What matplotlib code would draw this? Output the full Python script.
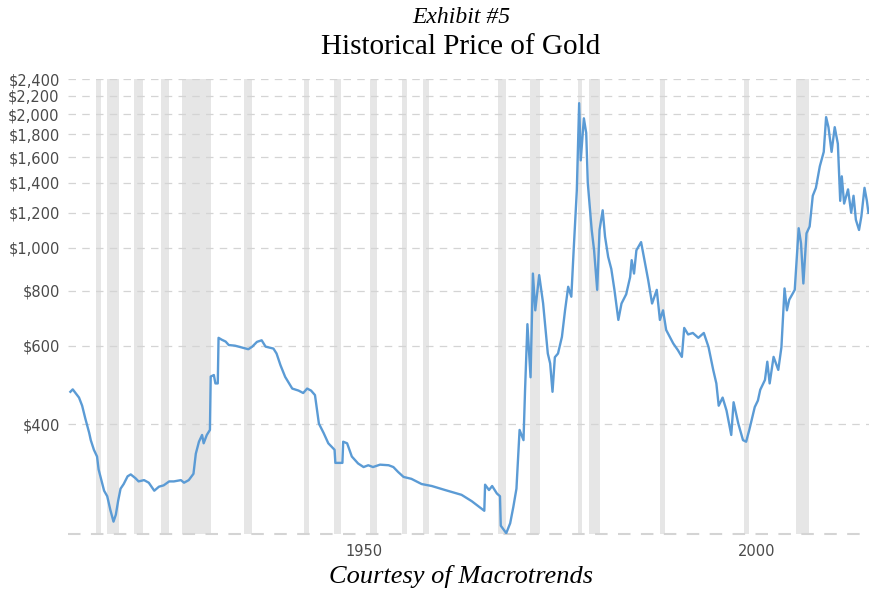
import matplotlib
matplotlib.use("Agg")
import matplotlib.pyplot as plt
import matplotlib.transforms as mtransforms
from matplotlib.ticker import FixedLocator, NullLocator

# gold price, inflation adjusted
years = [1915.3, 1915.6, 1916.4, 1916.8, 1917.2, 1917.7, 1917.9, 1918.3, 1918.7, 1918.9,
         1919.3, 1919.6, 1920.0, 1920.4, 1920.8, 1921.1, 1921.4, 1921.7, 1922.1, 1922.6,
         1923.0, 1923.6, 1924.0, 1924.7, 1925.3, 1926.0, 1926.6, 1927.2, 1927.9, 1928.5,
         1929.4, 1929.8, 1930.4, 1931.0, 1931.3, 1931.7, 1932.1, 1932.3, 1932.7, 1933.1,
         1933.2, 1933.6, 1933.8, 1934.1, 1934.2, 1934.6, 1935.1, 1935.5, 1936.3, 1937.2,
         1938.0, 1938.5, 1939.1, 1939.7, 1940.2, 1941.2, 1941.6, 1942.1, 1942.7, 1943.6,
         1944.4, 1945.0, 1945.5, 1946.0, 1946.5, 1947.0, 1947.6, 1948.2, 1949.0, 1949.1,
         1950.0, 1950.1, 1950.6, 1951.2, 1952.0, 1952.7, 1953.3, 1953.9, 1954.8, 1955.9,
         1956.5, 1957.1, 1957.8, 1958.8, 1960.1, 1961.4, 1963.1, 1965.2, 1966.5, 1968.1,
         1968.2, 1968.7, 1969.1, 1969.7, 1970.1, 1970.2, 1970.9, 1971.4, 1971.8, 1972.2,
         1972.6, 1973.1, 1973.3, 1973.6, 1974.0, 1974.3, 1974.6, 1975.1, 1975.6, 1976.2,
         1976.5, 1976.8, 1977.1, 1977.5, 1978.0, 1978.4, 1978.8, 1979.2, 1979.5, 1979.9,
         1980.2, 1980.4, 1980.8, 1981.1, 1981.3, 1981.8, 1982.1, 1982.5, 1982.8, 1983.2,
         1983.5, 1983.9, 1984.3, 1984.7, 1985.2, 1985.6, 1986.2, 1986.7, 1986.9, 1987.2,
         1987.5, 1988.1, 1988.6, 1989.0, 1989.5, 1990.1, 1990.5, 1990.9, 1991.3, 1992.2,
         1992.8, 1993.3, 1993.6, 1994.1, 1994.7, 1995.4, 1996.1, 1996.7, 1997.3, 1997.7,
         1998.0, 1998.5, 1999.0, 1999.6, 1999.9, 2000.5, 2001.1, 2001.5, 2001.9, 2002.6,
         2003.0, 2003.3, 2003.9, 2004.2, 2004.5, 2005.0, 2005.6, 2006.0, 2006.4, 2006.7,
         2007.0, 2007.7, 2008.2, 2008.5, 2008.8, 2009.2, 2009.6, 2010.0, 2010.4, 2010.9,
         2011.4, 2011.7, 2012.0, 2012.4, 2012.8, 2013.2, 2013.5, 2013.7, 2014.0, 2014.5,
         2014.9, 2015.2, 2015.5, 2015.9, 2016.2, 2016.6, 2016.9, 2017.1]
prices = [473, 479, 459, 440, 412, 382, 368, 350, 338, 316,
          297, 283, 275, 256, 241, 250, 269, 286, 293, 305,
          308, 302, 297, 299, 295, 283, 289, 291, 297, 297,
          299, 295, 299, 309, 343, 365, 378, 362, 378, 388,
          512, 516, 494, 494, 626, 620, 614, 603, 601, 595,
          590, 598, 613, 618, 598, 592, 577, 543, 511, 481,
          476, 470, 481, 476, 465, 401, 382, 362, 350, 327,
          327, 365, 362, 338, 326, 320, 323, 320, 324, 323,
          320, 312, 304, 301, 293, 290, 284, 277, 268, 255,
          292, 284, 290, 279, 275, 236, 227, 239, 260, 286,
          388, 368, 478, 672, 510, 874, 722, 867, 749, 577,
          548, 473, 566, 577, 629, 722, 816, 775, 988, 1345,
          2117, 1573, 1957, 1813, 1399, 1096, 988, 803, 1096, 1214,
          1059, 953, 895, 803, 687, 748, 785, 858, 937, 874,
          986, 1029, 924, 846, 748, 803, 687, 722, 652, 608,
          587, 567, 659, 637, 642, 626, 642, 597, 530, 494,
          440, 459, 429, 378, 448, 401, 368, 365, 388, 437,
          452, 478, 503, 553, 494, 567, 530, 596, 809, 722,
          763, 803, 1106, 1023, 830, 1077, 1116, 1309, 1364, 1526,
          1644, 1969, 1869, 1644, 1869, 1714, 1275, 1448, 1257, 1353,
          1198, 1309, 1155, 1096, 1176, 1364, 1275, 1198]

# US recessions (start, end)
recessions = [(1918.6, 1919.2), (1920.0, 1921.5), (1923.4, 1924.5), (1926.8, 1927.9),
              (1929.6, 1933.2), (1937.4, 1938.5), (1945.1, 1945.8), (1948.9, 1949.8),
              (1953.5, 1954.4), (1957.6, 1958.3), (1960.3, 1961.1), (1969.9, 1970.9),
              (1973.9, 1975.2), (1980.0, 1980.5), (1981.5, 1982.9), (1990.5, 1991.2),
              (2001.2, 2001.9), (2007.9, 2009.5)]

ytick_vals = [400, 600, 800, 1000, 1200, 1400, 1600, 1800, 2000, 2200, 2400]
ytick_labels = ["$400", "$600", "$800", "$1,000", "$1,200", "$1,400", "$1,600",
                "$1,800", "$2,000", "$2,200", "$2,400"]
xtick_vals = [1950, 2000]
xtick_labels = ["1950", "2000"]

fig = plt.figure(figsize=(8.7, 5.91), dpi=100)
ax = fig.add_axes([0.0782, 0.0964, 0.9218, 0.7699])

for s, e in recessions:
    ax.axvspan(s, e, color="#e6e6e6", lw=0, zorder=0)

ax.plot(years, prices, color="#5b9bd5", lw=1.7, zorder=3)

ax.set_yscale("log")
ax.set_ylim(226, 2400)
ax.set_xlim(1915.0, 2017.3)

ax.yaxis.set_major_locator(FixedLocator(ytick_vals))
ax.yaxis.set_minor_locator(NullLocator())
ax.set_yticklabels(ytick_labels)
ax.set_xticks(xtick_vals)
ax.set_xticklabels(xtick_labels)
ax.xaxis.set_minor_locator(NullLocator())

ax.grid(axis="y", color="#d4d4d4", linestyle=(0, (6, 5)), lw=0.9, zorder=1)
ax.axhline(226, color="#d4d4d4", linestyle=(0, (6, 5)), lw=1.5, zorder=1, clip_on=False)
ax.set_axisbelow(False)

for sp in ax.spines.values():
    sp.set_visible(False)
ax.tick_params(axis="both", length=0, colors="#4a4a4a", labelsize=10.5)
ax.tick_params(axis="y", pad=6)
ax.tick_params(axis="x", pad=7)

# x labels sit right of their year
offset = mtransforms.ScaledTranslation(0.22, 0, fig.dpi_scale_trans)
for lbl in ax.get_xticklabels():
    lbl.set_transform(lbl.get_transform() + offset)

fig.text(0.53, 0.971, "Exhibit #5", ha="center", va="center",
         family="Liberation Serif", style="italic", fontsize=17)
fig.text(0.53, 0.920, "Historical Price of Gold", ha="center", va="center",
         family="Liberation Serif", fontsize=21)
fig.text(0.53, 0.025, "Courtesy of Macrotrends", ha="center", va="center",
         family="Liberation Serif", style="italic", fontsize=19)

fig.savefig("out.png", dpi=100)
